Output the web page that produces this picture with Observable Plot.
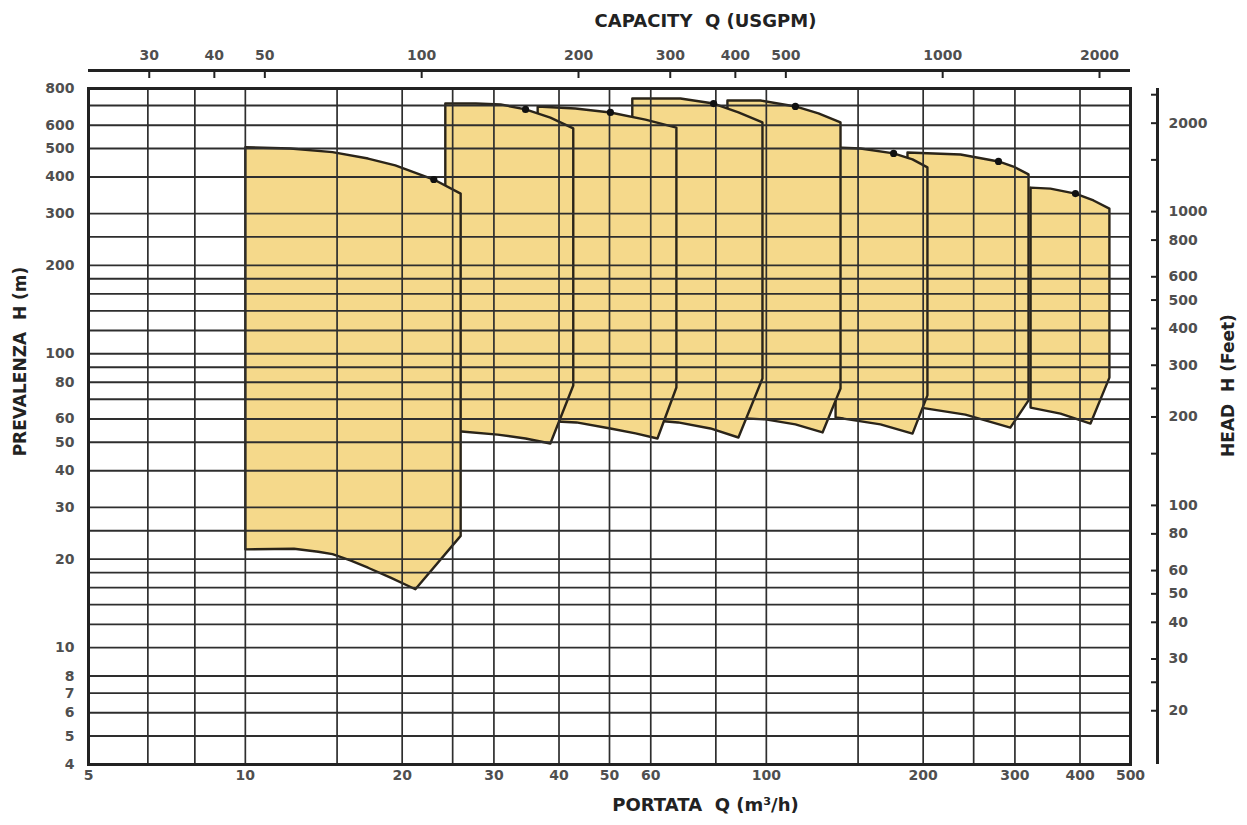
<!DOCTYPE html>
<html><head><meta charset="utf-8">
<script src="https://cdn.jsdelivr.net/npm/d3@7"></script>
<script src="https://cdn.jsdelivr.net/npm/@observablehq/plot@0.6"></script>
<style>
body{margin:0;background:#fff;}
#chart svg{display:block;}
</style></head><body><div id="chart"></div>
<script>
// ---- data (Q in m³/h, H in m) ----
const xGrid = [6.5, 8, 10, 15, 20, 25, 30, 40, 50, 60, 80, 100, 150, 200, 250, 300, 400];
const yGrid = [5,6,7,8,10,12,14,16,18,20,25,30,40,50,60,70,80,90,100,120,140,160,180,200,250,300,400,500,600,700];
const xTickLabels = [5,10,20,30,40,50,60,80,100,200,300,400,500];
const yTickLabels = [4,5,6,7,8,10,20,30,40,50,60,80,100,200,300,400,500,600,800];
const usgpmTicks = [30,40,50,100,200,300,400,500,1000,2000];
const feetTicks = [2500,2000,1500,1000,800,600,500,400,300,250,200,150,100,80,60,50,40,30,25,20];
const feetLabeled = [2000,1000,800,600,500,400,300,200,100,80,60,50,40,30,20];
const GPM_AS_DRAWN = 0.218;   // m³/h per USGPM as placed on the drawing
const FOOT = 0.3048;          // m per foot

const pump1 = [[10,505],[12.2,500],[14.7,486],[17.2,462],[19.4,438],[23.0,392],[25.9,351],[25.9,24.0],[21.2,15.8],[19.0,17.3],[17.2,18.7],[15.9,19.8],[14.7,20.8],[13.8,21.2],[12.4,21.7],[10,21.6]];
const pump2 = [[24.2,711],[27.7,711],[30.9,706],[34.5,679],[38.5,637],[42.6,585],[42.6,78.0],[38.5,49.5],[34.5,51.5],[30.5,53.1],[26.0,54.4],[24.2,54.8]];
const pump3 = [[36.4,695],[43.0,684],[50.2,663],[58.6,627],[67.2,589],[67.2,76.8],[61.8,51.5],[56.1,53.6],[50.2,55.7],[43.2,58.4],[36.4,59.3]];
const pump4 = [[55.3,740],[68.4,740],[79.2,711],[88.4,663],[98.3,613],[98.3,82.4],[88.4,51.9],[78.1,55.7],[67.7,58.4],[55.3,60.2]];
const pump5 = [[84.2,728],[97.5,728],[113.7,695],[125.9,658],[138.8,613],[138.8,76.2],[128.2,54.0],[113.7,57.5],[99.6,59.8],[84.2,60.7]];
const pump6 = [[135.8,504],[151.6,500],[175.5,481],[190.8,459],[203.8,431],[203.8,72.2],[190.8,53.5],[165.6,57.5],[140.6,60.2],[135.8,60.7]];
const pump7 = [[186.6,484.5],[235.9,477],[279,451.6],[298,434],[318.6,408],[318.6,69.4],[294,56.1],[241,62.1],[197.7,65.6],[186.6,66.1]];
const pump8 = [[321.5,368],[351,365],[392,351],[424.6,332.6],[455.5,312],[455.5,83.0],[419,57.9],[367,62.6],[321.5,65.6]];
const bepQ = [23.0, 34.5, 50.2, 79.2, 113.7, 175.5, 279, 392];
const bepH = [392, 679, 663, 711, 695, 481, 451.6, 351];

// ---- build tables ----
const pumps = [pump1,pump2,pump3,pump4,pump5,pump6,pump7,pump8];
// draw the rightmost first so that the left ones lie on top
const outline = pumps.map((pts, i) => ({id: i + 1, pts}))
  .reverse()
  .flatMap(({id, pts}) => [...pts, pts[0]].map(([q, h]) => ({id, q, h})));
const bep = bepQ.map((q, i) => ({q, h: bepH[i]}));

const FONT = '"DejaVu Sans",sans-serif';
const FILL = "#f5d98b", INK = "#2a2419", GRID = "#2e2e2e", LABEL = "#4f4f4f";

const plot = Plot.plot({
  width: 1247, height: 825,
  marginLeft: 88, marginRight: 117, marginTop: 88, marginBottom: 61,
  x: {type: "log", domain: [5, 500], axis: null},
  y: {type: "log", domain: [4, 800], axis: null},
  style: {fontFamily: FONT, fontSize: "14px", fontWeight: "bold", background: "#fff", color: "#222", overflow: "visible"},
  marks: [
    Plot.line(outline, {x: "q", y: "h", z: "id", fill: FILL, stroke: INK, strokeWidth: 2.4, strokeLinejoin: "round", curve: "linear"}),
    Plot.ruleX(xGrid, {stroke: GRID, strokeWidth: 1.7}),
    Plot.ruleY(yGrid, {stroke: GRID, strokeWidth: 1.9}),
    Plot.dot(bep, {x: "q", y: "h", r: 3.6, fill: "#111", stroke: null}),
    Plot.frame({stroke: "#222", strokeWidth: 3}),
    Plot.axisY(yTickLabels, {anchor: "left", tickSize: 0, tickPadding: 14, fill: LABEL, label: null, tickFormat: d => String(d)}),
    Plot.axisX(xTickLabels, {anchor: "bottom", tickSize: 0, tickPadding: 6, fill: LABEL, label: null, tickFormat: d => String(d)}),
    // top capacity axis (USGPM)
    Plot.ruleY([800], {x1: 5, x2: 500, dy: -18, stroke: "#222", strokeWidth: 3}),
    Plot.axisX(usgpmTicks.map(g => g * GPM_AS_DRAWN), {anchor: "top", tickSize: 7, dy: -11, strokeWidth: 2, stroke: "#222", label: null, tickFormat: () => ""}),
    Plot.text(usgpmTicks, {x: g => g * GPM_AS_DRAWN, frameAnchor: "top", dy: -33, lineAnchor: "middle", textAnchor: "middle", fill: LABEL, fontSize: 14, text: d => String(d)}),
    // right head axis (feet)
    Plot.ruleX([500], {dx: 27, stroke: "#222", strokeWidth: 3}),
    Plot.axisY(feetTicks.map(f => f * FOOT), {anchor: "right", tickSize: 7, dx: 20, strokeWidth: 2, stroke: "#222", label: null, tickFormat: () => ""}),
    Plot.text(feetLabeled, {y: f => f * FOOT, frameAnchor: "right", dx: 38, textAnchor: "start", lineAnchor: "middle", fill: LABEL, fontSize: 14, text: d => String(d)}),
    // titles
    Plot.text(["CAPACITY  Q (USGPM)"], {frameAnchor: "top", dx: 96, dy: -67, textAnchor: "middle", lineAnchor: "middle", fontSize: 18, fill: "#222"}),
    Plot.text(["PORTATA  Q (m³/h)"], {frameAnchor: "bottom", dx: 96, dy: 41, textAnchor: "middle", lineAnchor: "middle", fontSize: 18, fill: "#222"}),
    Plot.text(["PREVALENZA  H (m)"], {frameAnchor: "left", dx: -68, dy: -65, rotate: -90, textAnchor: "middle", lineAnchor: "middle", fontSize: 17, fill: "#222"}),
    Plot.text(["HEAD  H (Feet)"], {frameAnchor: "right", dx: 98, dy: -41, rotate: -90, textAnchor: "middle", lineAnchor: "middle", fontSize: 17, fill: "#222"})
  ]
});
document.getElementById("chart").appendChild(plot);
</script></body></html>
